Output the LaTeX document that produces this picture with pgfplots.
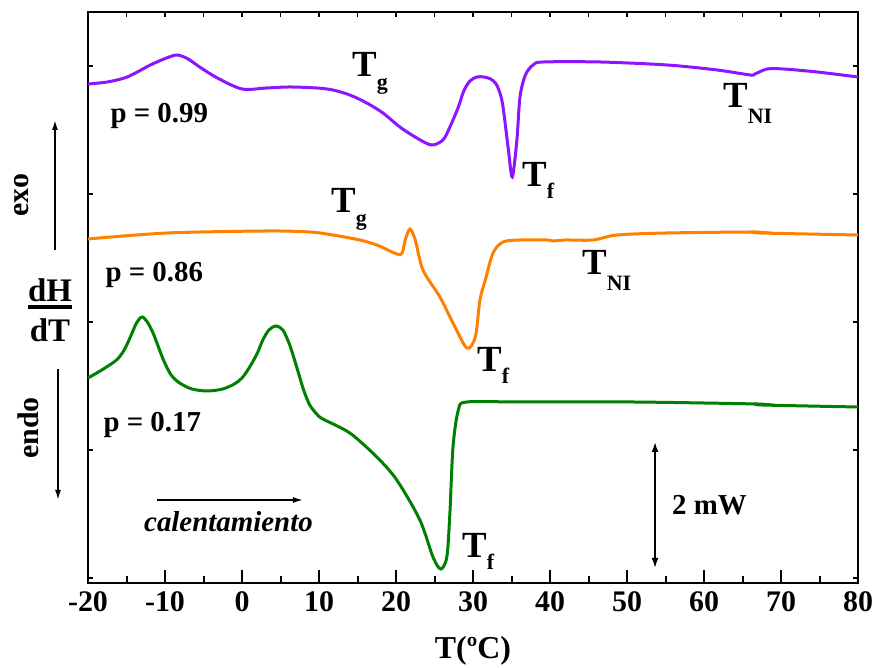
\documentclass[border=0pt]{standalone}
\usepackage{fontspec}
\setmainfont{Liberation Serif}
\usepackage{pgfplots}
\pgfplotsset{compat=1.18}
\usetikzlibrary{arrows.meta}
\definecolor{cpur}{RGB}{140,20,255}
\definecolor{corg}{RGB}{255,128,0}
\definecolor{cgrn}{RGB}{0,128,0}
\newcommand{\Tl}[2]{{\fontsize{37}{40}\selectfont T}\raisebox{-#2}{\fontsize{22}{24}\selectfont #1}}
\newcommand{\bigf}{\fontsize{29}{32}\selectfont}
\begin{document}
\begin{tikzpicture}[x=1bp,y=1bp,font=\bfseries]
\useasboundingbox (0,0) rectangle (874,668);
% top and y ticks
\begin{axis}[at={(88bp,85bp)}, anchor=south west, width=770bp, height=571bp, scale only axis,
  xmin=-20,xmax=80,ymin=0,ymax=571,
  axis line style={draw=none},
  xtick={-20,-15,...,80}, xtick pos=top, xticklabels={},
  ytick={5,133,261,389,517}, ytick pos=both, yticklabels={},
  tick align=inside, major tick length=5bp,
  every tick/.style={black,line width=1.5bp}]
\end{axis}
\begin{axis}[at={(88bp,85bp)}, anchor=south west, width=770bp, height=571bp, scale only axis,
  xmin=-20,xmax=80,ymin=0,ymax=571,
  axis line style={line width=2.5bp},
  xtick={-20,-10,...,80}, minor xtick={-15,-5,...,75}, xtick pos=bottom,
  ytick=\empty,
  tick align=inside, major tick length=13bp, minor tick length=7bp,
  every tick/.style={black,line width=2bp},
  /pgf/number format/assume math mode=true,
  xticklabel style={font=\bfseries\fontsize{30}{32}\selectfont, yshift=-5bp},
  clip=false]
\addplot[cpur, line width=3bp, smooth, tension=0.5] coordinates {
(-20,499) (-17.5,501) (-14.9,506) (-11.9,518) (-9.8,525) (-8.4,528) (-7,524) (-5.5,516) (-3.2,505) (0,494)
(3.2,495) (6.2,496) (9.7,495) (11.8,493) (14.0,488) (16.2,480) (18.3,470) (20.5,456)
(22.7,445) (24.6,438) (26.1,443) (27.0,456) (28.1,476) (28.8,492) (29.6,502) (30.5,506) (31.4,506)
(32.3,504) (33,499) (33.5,490) (33.9,476) (34.6,433) (35.1,406) (35.7,443) (36.1,486) (36.8,508) (37.8,518)
(39.1,521) (46.5,521) (55.2,518) (61.7,513) (66.0,508) (66.6,509) (68.2,514) (70.3,514)
(74.7,511) (80,506)};
\addplot[corg, line width=3bp, smooth, tension=0.5] coordinates {
(-20,344) (-9.7,350) (3.2,352) (8.8,351) (11.8,348) (15.3,343) (17.5,338) (20.1,329)
(20.8,330) (21.2,343) (21.8,354) (22.5,343) (23.5,313) (25.7,286) (27.4,260) (29.2,235)
(30.3,246) (30.9,283) (31.6,303) (32.6,330) (33.9,341) (36.1,343) (39.6,343) (40.4,342)
(42,343) (45.6,343) (48.7,348) (55.2,350) (66.4,351) (67.3,350) (80,348)};
\addplot[cgrn, line width=3bp, smooth, tension=0.5] coordinates {
(-20,205) (-18,214) (-16.3,223) (-15.3,233) (-14.5,246) (-13.7,260) (-13,266) (-12.3,261) (-11.5,249)
(-10.2,223) (-9.2,208) (-8.1,200) (-6.5,194) (-4.5,192) (-2.5,194) (-1,199) (0,205) (1.0,216) (2,230)
(2.7,243) (3.5,253) (4.4,257) (5.3,253) (6.2,238) (7.1,216) (8.0,193) (8.8,178) (9.7,169) (10.5,164)
(14,150) (17.5,126) (20.1,103) (23.1,63) (24.8,26) (25.8,14) (26.6,26) (27,70)
(27.4,136) (28.1,173) (29.2,181) (36.1,181) (50.8,181) (66.9,179) (67.5,178) (80,176)};
% labels
\node[anchor=base west] at (axis cs:-17.53,460) {\bigf p = 0.99};
\node[anchor=base west] at (axis cs:-18.18,301) {\bigf p = 0.86};
\node[anchor=base west] at (axis cs:-18.44,151) {\bigf p = 0.17};
\node[anchor=base west, inner sep=0pt] at (axis cs:14.29,506) {\Tl{g}{13bp}};
\node[anchor=base west, inner sep=0pt] at (axis cs:11.56,370) {\Tl{g}{13bp}};
\node[anchor=base west, inner sep=0pt] at (axis cs:36.36,396) {\Tl{f}{12bp}};
\node[anchor=base west, inner sep=0pt] at (axis cs:62.47,475) {\Tl{NI}{16bp}};
\node[anchor=base west, inner sep=0pt] at (axis cs:44.16,308) {\Tl{NI}{16bp}};
\node[anchor=base west, inner sep=0pt] at (axis cs:30.52,211) {\Tl{f}{12bp}};
\node[anchor=base west, inner sep=0pt] at (axis cs:28.57,25) {\Tl{f}{12bp}};
\draw[line width=1.5bp, -{Latex[length=10bp,width=6bp]}] (axis cs:-11.04,83) -- (axis cs:7.92,83);
\node[anchor=base west, inner sep=0pt] at (axis cs:-12.73,51) {\bigf\bfseries\itshape calentamiento};
\draw[line width=1.8bp, {Latex[length=10bp,width=7bp]}-{Latex[length=10bp,width=7bp]}] (axis cs:53.64,15) -- (axis cs:53.64,141);
\node[anchor=base west, inner sep=0pt] at (axis cs:55.84,68) {\bigf 2 mW};
\end{axis}
% outside texts
\node[rotate=90] at (22,473) {\fontsize{30}{32}\selectfont exo};
\draw[line width=1.6bp, -{Latex[length=10bp,width=6bp]}] (55,418) -- (55,548);
\node[rotate=90] at (28,240) {\fontsize{30}{32}\selectfont endo};
\draw[line width=1.6bp, -{Latex[length=10bp,width=6bp]}] (58,299) -- (58,168);
\node[anchor=base, inner sep=0pt] at (50,366) {\fontsize{33}{34}\selectfont dH};
\draw[line width=3.5bp] (28,361) -- (72,361);
\node[anchor=base, inner sep=0pt] at (50,326) {\fontsize{33}{34}\selectfont dT};
\node[anchor=base, inner sep=0pt] at (473,9) {\fontsize{32}{34}\selectfont T(ºC)};
\end{tikzpicture}
\end{document}
